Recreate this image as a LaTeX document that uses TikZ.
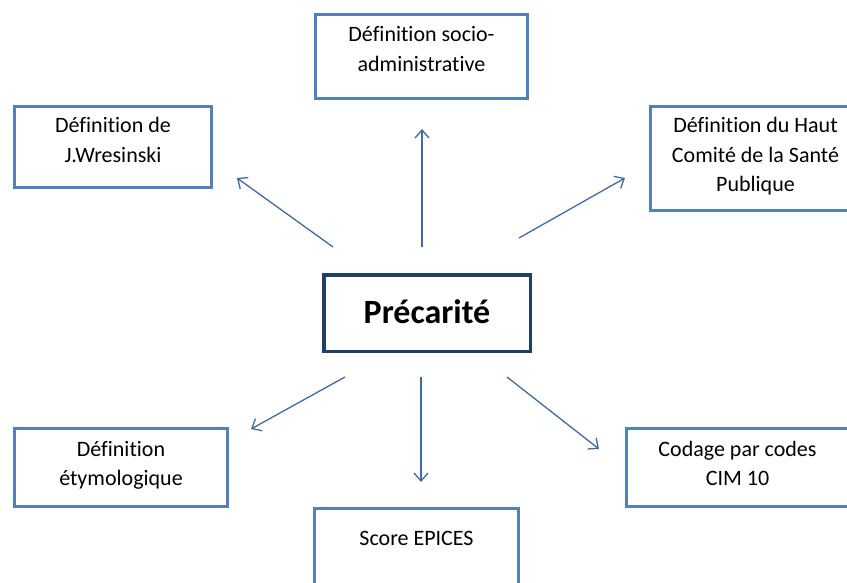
\documentclass[tikz,border=0pt]{standalone}
\usepackage{fontspec}
\setmainfont{Carlito}[Ligatures={NoCommon,NoContextual}]
\usetikzlibrary{arrows.meta}
\definecolor{boxblue}{HTML}{4F81BD}
\definecolor{navy}{HTML}{213E66}
\definecolor{arrowblue}{HTML}{4169A6}
\newcommand{\topst}[1]{\rule{0pt}{#1pt}}
\newcommand{\botst}[1]{\rule[-#1pt]{0pt}{#1pt}}
\tikzset{
  box/.style={draw=boxblue, line width=3pt, align=center, inner xsep=0pt, inner ysep=0pt,
    anchor=north west, font=\fontsize{22}{29.5}\selectfont, text=black},
  mainbox/.style={draw=navy, line width=3.5pt, inner sep=0pt, anchor=north west,
    font=\fontsize{34}{40}\selectfont\bfseries, text=black},
  conn/.style={draw=arrowblue, line width=1.3pt, -{Straight Barb[length=8pt,width=14pt]}}
}
\begin{document}
\begin{tikzpicture}[x=1pt,y=-1pt]
\useasboundingbox (0,0) rectangle (847,583);
% boxes (outer edges)
\node[box, minimum width=212pt] (socio) at (314,13)
  {\topst{27.5}Définition socio-\\administrative\botst{27.5}};
\node[box, minimum width=197pt] (wres) at (13,105)
  {\topst{26.5}Définition de\\J.Wresinski\botst{25.5}};
\node[box, minimum width=210pt] (haut) at (649,105)
  {\topst{26.5}Définition du Haut\\Comité de la Santé\\Publique\botst{18.5}};
\node[mainbox, minimum width=206.5pt, minimum height=76.5pt] (prec) at (322,273)
  {\raisebox{3pt}{Précarité}};
\node[box, minimum width=213pt] (etym) at (13,427)
  {\topst{27.5}Définition\\étymologique\botst{20.5}};
\node[box, minimum width=222pt] (cim) at (625,427)
  {\topst{27.5}Codage par codes\\CIM 10\botst{20.5}};
\node[box, minimum width=204pt] (epices) at (313,507)
  {\topst{36.5}Score EPICES\botst{50}};
% connector end points
\coordinate (s1) at (333,247); \coordinate (e1) at (237,178);
\coordinate (s2) at (422,247); \coordinate (e2) at (422,129);
\coordinate (s3) at (519,238); \coordinate (e3) at (625,178);
\coordinate (s4) at (345,377); \coordinate (e4) at (251,429);
\coordinate (s5) at (421,377); \coordinate (e5) at (421,482);
\coordinate (s6) at (507,377); \coordinate (e6) at (599,449);
\draw[conn] (s1) -- (e1);
\draw[conn] (s2) -- (e2);
\draw[conn] (s3) -- (e3);
\draw[conn] (s4) -- (e4);
\draw[conn] (s5) -- (e5);
\draw[conn] (s6) -- (e6);
\end{tikzpicture}
\end{document}
